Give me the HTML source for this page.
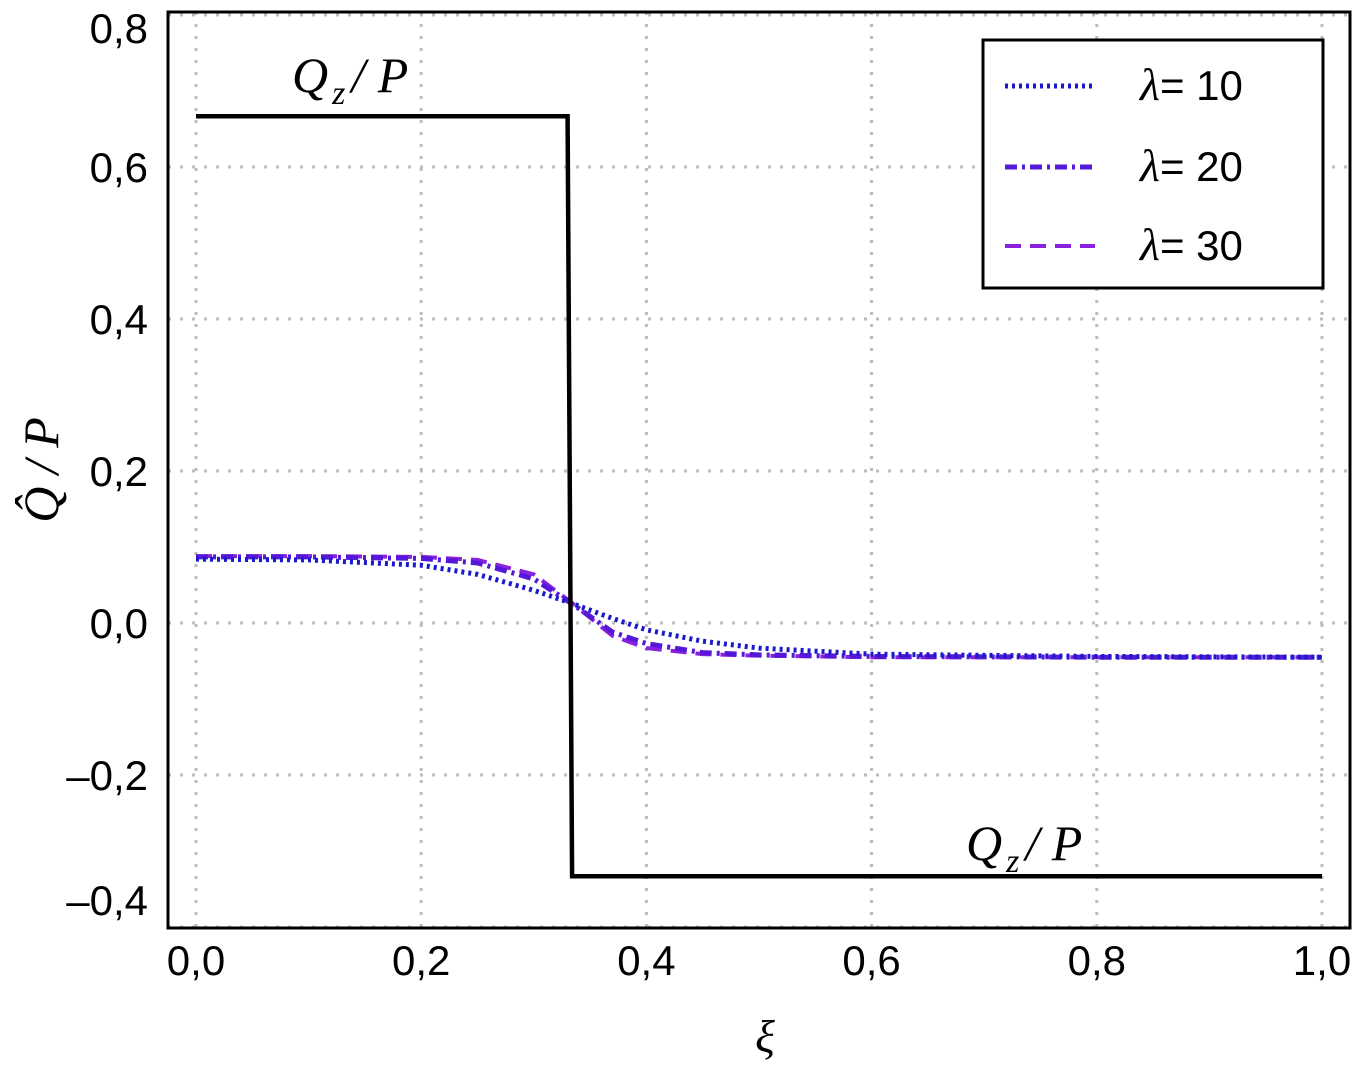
<!DOCTYPE html>
<html><head><meta charset="utf-8"><style>
body{margin:0;background:#fff}
svg text{font-family:"Liberation Sans",sans-serif}
.m{font-family:"Liberation Serif",serif;font-style:italic}
</style></head><body>
<svg id="c" width="1355" height="1065">
<g id="grid"></g>
<g id="ticks"></g>
<g id="series"></g>
<rect x="168" y="12" width="1182" height="916" fill="none" stroke="#000" stroke-width="3"/>
<text x="292" y="92" font-size="50" class="m">Q<tspan font-size="34" dx="4" dy="12">z</tspan><tspan dx="6" dy="-12">/ P</tspan></text>
<text x="966" y="860" font-size="50" class="m">Q<tspan font-size="34" dx="4" dy="12">z</tspan><tspan dx="6" dy="-12">/ P</tspan></text>
<text x="765" y="1052" font-size="46" text-anchor="middle" class="m">ξ</text>
<text transform="translate(58,470) rotate(-90)" font-size="50" text-anchor="middle" class="m">Q̂ / P</text>
<g>
<rect x="983" y="40" width="340" height="248" fill="#fff" stroke="#000" stroke-width="3"/>
<line x1="1005" y1="86" x2="1095" y2="86" stroke="#1a1acc" stroke-width="5" stroke-dasharray="3,4"/>
<line x1="1005" y1="167" x2="1095" y2="167" stroke="#5518d8" stroke-width="5" stroke-dasharray="12,5,3,5"/>
<line x1="1005" y1="246" x2="1095" y2="246" stroke="#8a22dd" stroke-width="4" stroke-dasharray="16,9"/>
<text x="1140" y="100" font-size="42"><tspan class="m" font-size="46">λ</tspan>= 10</text>
<text x="1140" y="181" font-size="42"><tspan class="m" font-size="46">λ</tspan>= 20</text>
<text x="1140" y="260" font-size="42"><tspan class="m" font-size="46">λ</tspan>= 30</text>
</g>
</svg>
<script>
const xTicks=[0,0.2,0.4,0.6,0.8,1.0];
const yTicks=[-0.4,-0.2,0,0.2,0.4,0.6,0.8];
const stepX=[0,0.330,0.334,1];
const stepY=[0.6667,0.6667,-0.3333,-0.3333];
const xi=[0,0.1,0.2,0.25,0.3,0.3333,0.37,0.4,0.45,0.5,0.6,0.8,1];
const l10=[0.084,0.083,0.076,0.064,0.043,0.026,0.006,-0.009,-0.024,-0.033,-0.041,-0.044,-0.045];
const l20=[0.087,0.087,0.085,0.079,0.058,0.026,-0.012,-0.027,-0.039,-0.042,-0.044,-0.045,-0.045];
const l30=[0.088,0.088,0.087,0.083,0.064,0.027,-0.017,-0.033,-0.041,-0.043,-0.045,-0.045,-0.045];
const X=v=>196+v*1126, Y=v=>623-v*760;
const NS='http://www.w3.org/2000/svg';
function mk(t,a,p){const e=document.createElementNS(NS,t);for(const k in a)e.setAttribute(k,a[k]);p.appendChild(e);return e;}
const g=document.getElementById('grid'),tk=document.getElementById('ticks'),s=document.getElementById('series');
xTicks.forEach(v=>{
 const l=mk('line',{x1:X(v),x2:X(v),y1:12,y2:928,stroke:'#bbb','stroke-width':3,'stroke-dasharray':'3,9'},g);
 
 
 const t=mk('text',{x:X(v),y:975,'font-size':42,'text-anchor':'middle'},tk);
 t.textContent=v.toFixed(1).replace('.',',');
 
 
});
yTicks.forEach(v=>{
 const l=mk('line',{x1:168,x2:1350,y1:Y(v),y2:Y(v),stroke:'#bbb','stroke-width':3,'stroke-dasharray':'3,9'},g);
 
 
 let yy=Y(v)+15; if(v>0.7) yy+=13; if(v<-0.3) yy-=27;
 const t=mk('text',{x:148,y:yy,'font-size':42,'text-anchor':'end'},tk);
 t.textContent=(v<0?'\u2013':'')+Math.abs(v).toFixed(1).replace('.',',');
 
 
});
function line(xs,ys,st,name){
 const p=mk('polyline',Object.assign({points:xs.map((x,i)=>X(x)+','+Y(ys[i])).join(' '),fill:'none'},st),s);
 
 
}
line(xi,l30,{stroke:'#8a22dd','stroke-width':4,'stroke-dasharray':'16,9'},'series-lambda-30');
line(xi,l20,{stroke:'#5518d8','stroke-width':5,'stroke-dasharray':'12,5,3,5'},'series-lambda-20');
line(xi,l10,{stroke:'#1a1acc','stroke-width':5,'stroke-dasharray':'3,4'},'series-lambda-10');
line(stepX,stepY,{stroke:'#000','stroke-width':4.5},'series-qz-step');
</script>
</body></html>
